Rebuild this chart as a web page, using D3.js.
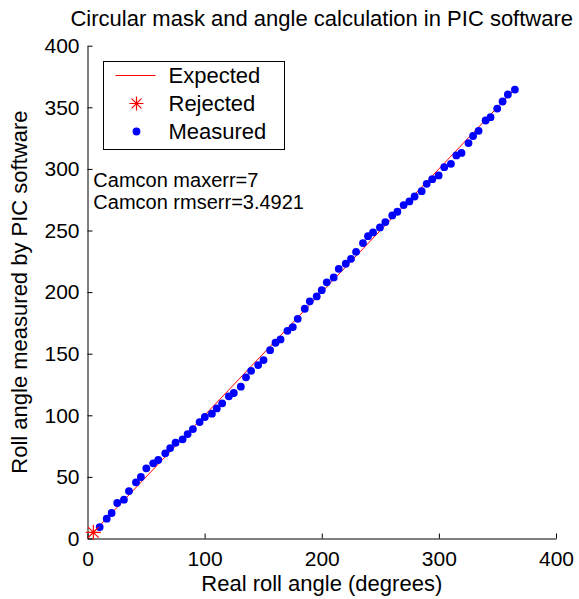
<!DOCTYPE html>
<html>
<head>
<meta charset="utf-8">
<script src="https://cdn.jsdelivr.net/npm/d3@7/dist/d3.min.js"></script>
<style>
  body { margin: 0; background: #fff; }
  svg text { font-family: "Liberation Sans", Arial, Helvetica, sans-serif; fill: #000; }
</style>
</head>
<body>
<div id="chart"></div>
<script>
// data
const realAngle = [10.4, 16.4, 20.6, 25.4, 31.1, 35.4, 41.4, 45.6, 50.2, 56.1, 60.4, 66.4, 70.6, 75.2,
  81.2, 85.5, 90.0, 95.7, 100.2, 106.2, 110.4, 115.0, 120.7, 124.9, 130.9, 135.3, 139.7, 145.7,
  150.3, 155.9, 160.5, 164.8, 170.7, 175.3, 179.5, 185.5, 189.8, 195.7, 200.0, 204.3, 210.2,
  214.5, 220.5, 225.0, 229.3, 235.2, 239.5, 243.8, 249.7, 254.3, 260.2, 264.6, 269.9, 274.8,
  279.3, 285.3, 289.6, 294.4, 299.8, 304.6, 310.3, 314.9, 319.3, 325.3, 329.2, 333.9, 339.9,
  344.1, 349.8, 354.4, 358.9, 364.9];
const measuredAngle = [9.3, 16.1, 20.7, 28.8, 31.5, 38.5, 45.6, 49.9, 57.0, 61.0, 63.7, 69.1, 73.4, 77.7,
  80.5, 84.8, 88.8, 94.5, 98.6, 101.3, 105.6, 109.7, 115.4, 118.1, 123.2, 130.8, 136.1, 140.8,
  144.8, 152.9, 158.9, 161.6, 168.6, 171.6, 178.3, 186.5, 192.5, 196.5, 201.6, 207.9, 211.9,
  218.9, 223.0, 227.0, 232.7, 239.8, 245.4, 248.4, 252.5, 256.8, 262.2, 265.2, 270.6, 273.6,
  277.6, 281.9, 287.9, 291.7, 294.7, 301.4, 304.1, 310.9, 313.0, 321.0, 326.7, 330.9, 339.3,
  342.0, 349.0, 354.7, 360.4, 364.4];
const rejectedReal = [5];
const rejectedMeasured = [5];
const expectedRange = [0, 365];

const xTicks = [0, 100, 200, 300, 400];
const yTicks = [0, 50, 100, 150, 200, 250, 300, 350, 400];
const legendLabels = ["Expected", "Rejected", "Measured"];
const notes = ["Camcon maxerr=7", "Camcon rmserr=3.4921"];

const titleText = "Circular mask and angle calculation in PIC software";
const xLabel = "Real roll angle (degrees)";
const yLabel = "Roll angle measured by PIC software";

//////////////////////////////////////////////////
const W = 579, H = 599;
const margin = {top: 45.7, right: 23, bottom: 60.5, left: 87.5};
const tickFont = 21;
const fontSize = 22;
const noteFont = 20;

const svg = d3.select("#chart").append("svg")
  .attr("width", W)
  .attr("height", H);

const x = d3.scaleLinear().domain([0, 400]).range([margin.left, W - margin.right]);
const y = d3.scaleLinear().domain([0, 400]).range([H - margin.bottom, margin.top]);

// axes (matlab style: ticks inside, no box)
const xAxis = svg.append("g")
  .attr("transform", "translate(0," + y(0) + ")")
  .call(d3.axisBottom(x).tickValues(xTicks).tickSizeInner(-5).tickSizeOuter(0).tickPadding(13));
const yAxis = svg.append("g")
  .attr("transform", "translate(" + x(0) + ",0)")
  .call(d3.axisLeft(y).tickValues(yTicks).tickSizeInner(-5).tickSizeOuter(0).tickPadding(8));

[xAxis, yAxis].forEach(g => {
  g.selectAll("path.domain").attr("stroke", "#000").attr("stroke-width", 1);
  g.selectAll(".tick line").attr("stroke", "#000");
  g.selectAll(".tick text")
    .attr("font-size", tickFont)
    .attr("font-family", "Liberation Sans, Arial, sans-serif")
    .attr("fill", "#000");
});

// expected line
svg.append("line")
  .attr("x1", x(expectedRange[0])).attr("y1", y(expectedRange[0]))
  .attr("x2", x(expectedRange[1])).attr("y2", y(expectedRange[1]))
  .attr("stroke", "#ff0000")
  .attr("stroke-width", 1);

// measured dots
svg.append("g").selectAll("circle")
  .data(realAngle.map((v, i) => [v, measuredAngle[i]]))
  .join("circle")
  .attr("cx", d => x(d[0]))
  .attr("cy", d => y(d[1]))
  .attr("r", 3.9)
  .attr("fill", "#0000ff");

// star marker like matlab '*'
function starPath(cx, cy, s) {
  const d = s * 0.7;
  return "M" + (cx - s) + "," + cy + "H" + (cx + s) +
    "M" + cx + "," + (cy - s) + "V" + (cy + s) +
    "M" + (cx - d) + "," + (cy - d) + "L" + (cx + d) + "," + (cy + d) +
    "M" + (cx - d) + "," + (cy + d) + "L" + (cx + d) + "," + (cy - d);
}

svg.append("g").selectAll("path")
  .data(rejectedReal.map((v, i) => [v, rejectedMeasured[i]]))
  .join("path")
  .attr("d", d => starPath(x(d[0]), y(d[1]), 7.5))
  .attr("stroke", "#ff0000")
  .attr("stroke-width", 1.2)
  .attr("fill", "none");

// legend
const legend = svg.append("g").attr("transform", "translate(103.5,61.5)");
legend.append("rect")
  .attr("width", 181).attr("height", 88)
  .attr("fill", "#fff").attr("stroke", "#000").attr("stroke-width", 1);

const rowY = d3.scalePoint().domain(legendLabels).range([14, 70]);

legend.append("line")
  .attr("x1", 12).attr("x2", 52)
  .attr("y1", rowY("Expected")).attr("y2", rowY("Expected"))
  .attr("stroke", "#ff0000")
  .attr("stroke-width", 1);
legend.append("path")
  .attr("d", starPath(33, rowY("Rejected"), 7))
  .attr("stroke", "#ff0000").attr("stroke-width", 1.2).attr("fill", "none");
legend.append("circle")
  .attr("cx", 33).attr("cy", rowY("Measured")).attr("r", 3.9)
  .attr("fill", "#0000ff");

legend.selectAll("text.lbl")
  .data(legendLabels)
  .join("text")
  .attr("class", "lbl")
  .attr("x", 65)
  .attr("y", d => rowY(d))
  .attr("dy", "0.36em")
  .attr("font-size", fontSize)
  .text(d => d);

// annotation text
svg.selectAll("text.note")
  .data(notes)
  .join("text")
  .attr("class", "note")
  .attr("x", x(5))
  .attr("y", (d, i) => y(285) + i * 22)
  .attr("font-size", noteFont)
  .text(d => d);

// title and axis labels
svg.append("text")
  .attr("x", (x(0) + x(400)) / 2)
  .attr("y", 26)
  .attr("text-anchor", "middle")
  .attr("font-size", fontSize)
  .text(titleText);

svg.append("text")
  .attr("x", (x(0) + x(400)) / 2)
  .attr("y", 591)
  .attr("text-anchor", "middle")
  .attr("font-size", fontSize)
  .text(xLabel);

svg.append("text")
  .attr("transform", "translate(27," + (y(0) + y(400)) / 2 + ") rotate(-90)")
  .attr("text-anchor", "middle")
  .attr("font-size", fontSize)
  .text(yLabel);
</script>
</body>
</html>
